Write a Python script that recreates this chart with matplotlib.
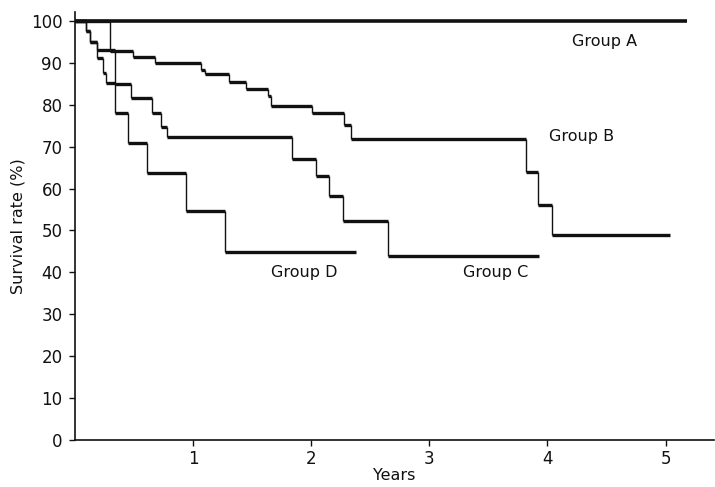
import matplotlib
matplotlib.use("Agg")
import matplotlib.pyplot as plt

# ---- data ----
group_a_times = [0.0]
group_a_surv = [100.0]
group_a_end = 5.18

group_b_times = [0.0, 0.296, 0.49, 0.676, 1.07, 1.10, 1.30, 1.45, 1.63, 1.66, 2.01, 2.28, 2.34, 3.82, 3.92, 4.04]
group_b_surv = [100.0, 92.8, 91.3, 90.0, 88.3, 87.3, 85.5, 83.7, 82.0, 79.7, 78.0, 75.2, 71.8, 64.0, 56.1, 48.9]
group_b_end = 5.04

group_c_times = [0.0, 0.09, 0.13, 0.19, 0.335, 0.47, 0.65, 0.73, 0.78, 1.84, 2.04, 2.15, 2.27, 2.65]
group_c_surv = [100.0, 97.5, 95.0, 93.0, 85.0, 81.7, 78.0, 74.8, 72.4, 67.0, 62.9, 58.2, 52.3, 43.9]
group_c_end = 3.93

group_d_times = [0.0, 0.09, 0.13, 0.19, 0.24, 0.265, 0.34, 0.45, 0.61, 0.94, 1.27]
group_d_surv = [100.0, 97.5, 95.0, 91.2, 87.5, 85.2, 78.0, 70.9, 63.7, 54.7, 44.8]
group_d_end = 2.38

group_labels = ["Group A", "Group B", "Group C", "Group D"]
label_x = [4.48, 4.29, 3.56, 1.94]
label_y = [95.0, 72.5, 40.0, 40.0]

x_ticks = [1, 2, 3, 4, 5]
y_ticks = [0, 10, 20, 30, 40, 50, 60, 70, 80, 90, 100]

# ---- figure ----
fig = plt.figure(figsize=(7.15, 4.87), dpi=100)
ax = fig.add_axes([75 / 715, 1 - 440 / 487, 639 / 715, (440 - 11.7) / 487])

ink = "#111111"


def draw_km(times, surv, end, hlw=2.4, vlw=1.0):
    xs_end = list(times[1:]) + [end]
    ax.hlines(surv, times, xs_end, colors=ink, linewidth=hlw)
    for i in range(1, len(times)):
        ax.vlines(times[i], surv[i], surv[i - 1], colors=ink, linewidth=vlw)


draw_km(group_a_times, group_a_surv, group_a_end, hlw=2.6)
draw_km(group_b_times, group_b_surv, group_b_end)
draw_km(group_c_times, group_c_surv, group_c_end)
draw_km(group_d_times, group_d_surv, group_d_end)

for lab, lx, ly in zip(group_labels, label_x, label_y):
    ax.text(lx, ly, lab, ha="center", va="center", fontsize=11.5, color=ink)

ax.set_xlim(0, 5.41)
ax.set_ylim(0, 102.2)
ax.set_xticks(x_ticks)
ax.set_yticks(y_ticks)
ax.tick_params(axis="both", direction="out", length=4, width=1, labelsize=12, colors=ink)
ax.tick_params(axis="x", pad=3)
ax.tick_params(axis="y", pad=5)
for side in ["top", "right"]:
    ax.spines[side].set_visible(False)
for side in ["left", "bottom"]:
    ax.spines[side].set_linewidth(1.2)
    ax.spines[side].set_color(ink)

ax.set_xlabel("Years", fontsize=11.5, color=ink, labelpad=0)
ax.set_ylabel("Survival rate (%)", fontsize=11.5, color=ink, labelpad=4)

fig.savefig("out.png", dpi=100)
